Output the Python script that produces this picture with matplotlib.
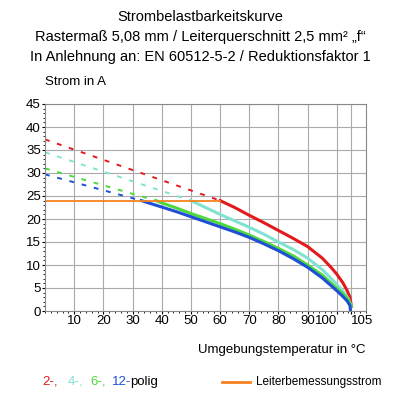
import matplotlib.pyplot as plt
from matplotlib.ticker import MultipleLocator

plt.rcParams['font.family'] = ['Liberation Sans', 'DejaVu Sans']

red_dash_x = [0, 60]
red_dash_y = [37.3, 24]
red_x = [60, 65, 70, 75, 80, 85, 90, 95, 98, 100, 102, 103.5, 104.5, 105]
red_y = [24, 22.5, 20.8, 19.2, 17.5, 15.8, 14, 11.5, 9.5, 8, 6.2, 4.5, 3, 1]

cyan_dash_x = [0, 50]
cyan_dash_y = [34.5, 24]
cyan_x = [50, 55, 60, 65, 70, 75, 80, 85, 90, 95, 100, 102, 104, 105]
cyan_y = [24, 22.5, 21, 19.6, 18.2, 16.7, 15, 13.4, 11.5, 9, 5.8, 4.4, 2.6, 1]

green_dash_x = [0, 38]
green_dash_y = [31, 24]
green_x = [38, 40, 45, 50, 55, 60, 65, 70, 75, 80, 85, 90, 95, 100, 102, 104, 105]
green_y = [24, 23.5, 22.4, 21.2, 20.1, 19, 17.8, 16.5, 15.1, 13.6, 12, 10, 7.8, 4.9, 3.8, 2.4, 1]

blue_dash_x = [0, 33]
blue_dash_y = [29.7, 24]
blue_x = [33, 35, 40, 45, 50, 55, 60, 65, 70, 75, 80, 85, 90, 95, 100, 102, 103.5, 104.5, 104.7]
blue_y = [24, 23.6, 22.6, 21.6, 20.5, 19.4, 18.3, 17.2, 16, 14.6, 13.1, 11.4, 9.5, 7.2, 4.4, 3.2, 2.2, 1.2, 0]

orange_x = [0, 60]
orange_y = [24, 24]

RED, CYAN, GREEN, BLUE, ORANGE = '#e3191c', '#80e3d2', '#4cd93a', '#1f4fd6', '#f58220'

fig = plt.figure(figsize=(4, 4), dpi=100)
ax = fig.add_axes([0.1125, 0.2225, 0.8025, 0.5175])

for dx, dy, sx, sy, c in [(red_dash_x, red_dash_y, red_x, red_y, RED),
                          (cyan_dash_x, cyan_dash_y, cyan_x, cyan_y, CYAN),
                          (green_dash_x, green_dash_y, green_x, green_y, GREEN),
                          (blue_dash_x, blue_dash_y, blue_x, blue_y, BLUE)]:
    ax.plot(dx, dy, color=c, linestyle=(0, (2.5, 4)), linewidth=1.4)
    ax.plot(sx, sy, color=c, linewidth=2.2)
ax.plot(orange_x, orange_y, color=ORANGE, linewidth=1.3)

ax.set_xlim(0, 110)
ax.set_ylim(0, 45)
ax.set_xticks([10, 20, 30, 40, 50, 60, 70, 80, 90, 100, 105])
ax.set_yticks(range(0, 46, 5))
ax.xaxis.set_minor_locator(MultipleLocator(2))
ax.yaxis.set_minor_locator(MultipleLocator(1))
ax.grid(True, color='#aaaaaa', linewidth=0.8)
ax.tick_params(labelsize=9.5, length=2, direction='out', pad=1)
ax.tick_params(which='minor', length=1.5)
labels = ax.get_xticklabels()
labels[-2].set_horizontalalignment('right')
labels[-1].set_horizontalalignment('left')
for s in ax.spines.values():
    s.set_color('#888888')

fig.text(0.5, 0.975, 'Strombelastbarkeitskurve', ha='center', va='top', fontsize=10.5)
fig.text(0.5, 0.925, 'Rastermaß 5,08 mm / Leiterquerschnitt 2,5 mm² „f“', ha='center', va='top', fontsize=10.5)
fig.text(0.5, 0.875, 'In Anlehnung an: EN 60512-5-2 / Reduktionsfaktor 1', ha='center', va='top', fontsize=10.5)
fig.text(0.1125, 0.795, 'Strom in A', ha='left', va='center', fontsize=9.5)
fig.text(0.915, 0.125, 'Umgebungstemperatur in °C', ha='right', va='center', fontsize=9.5)

y0 = 0.045
for t, c, x in [('2-,', RED, 0.105), ('4-,', CYAN, 0.17), ('6-,', GREEN, 0.225), ('12-', BLUE, 0.28)]:
    fig.text(x, y0, t, color=c, fontsize=9.5, va='center')
fig.text(0.325, y0, 'polig', color='black', fontsize=9.5, va='center')
fig.add_artist(plt.Line2D([0.555, 0.625], [y0, y0], color=ORANGE, linewidth=2))
fig.text(0.64, y0, 'Leiterbemessungsstrom', fontsize=8.5, va='center')

fig.savefig('out.png')
